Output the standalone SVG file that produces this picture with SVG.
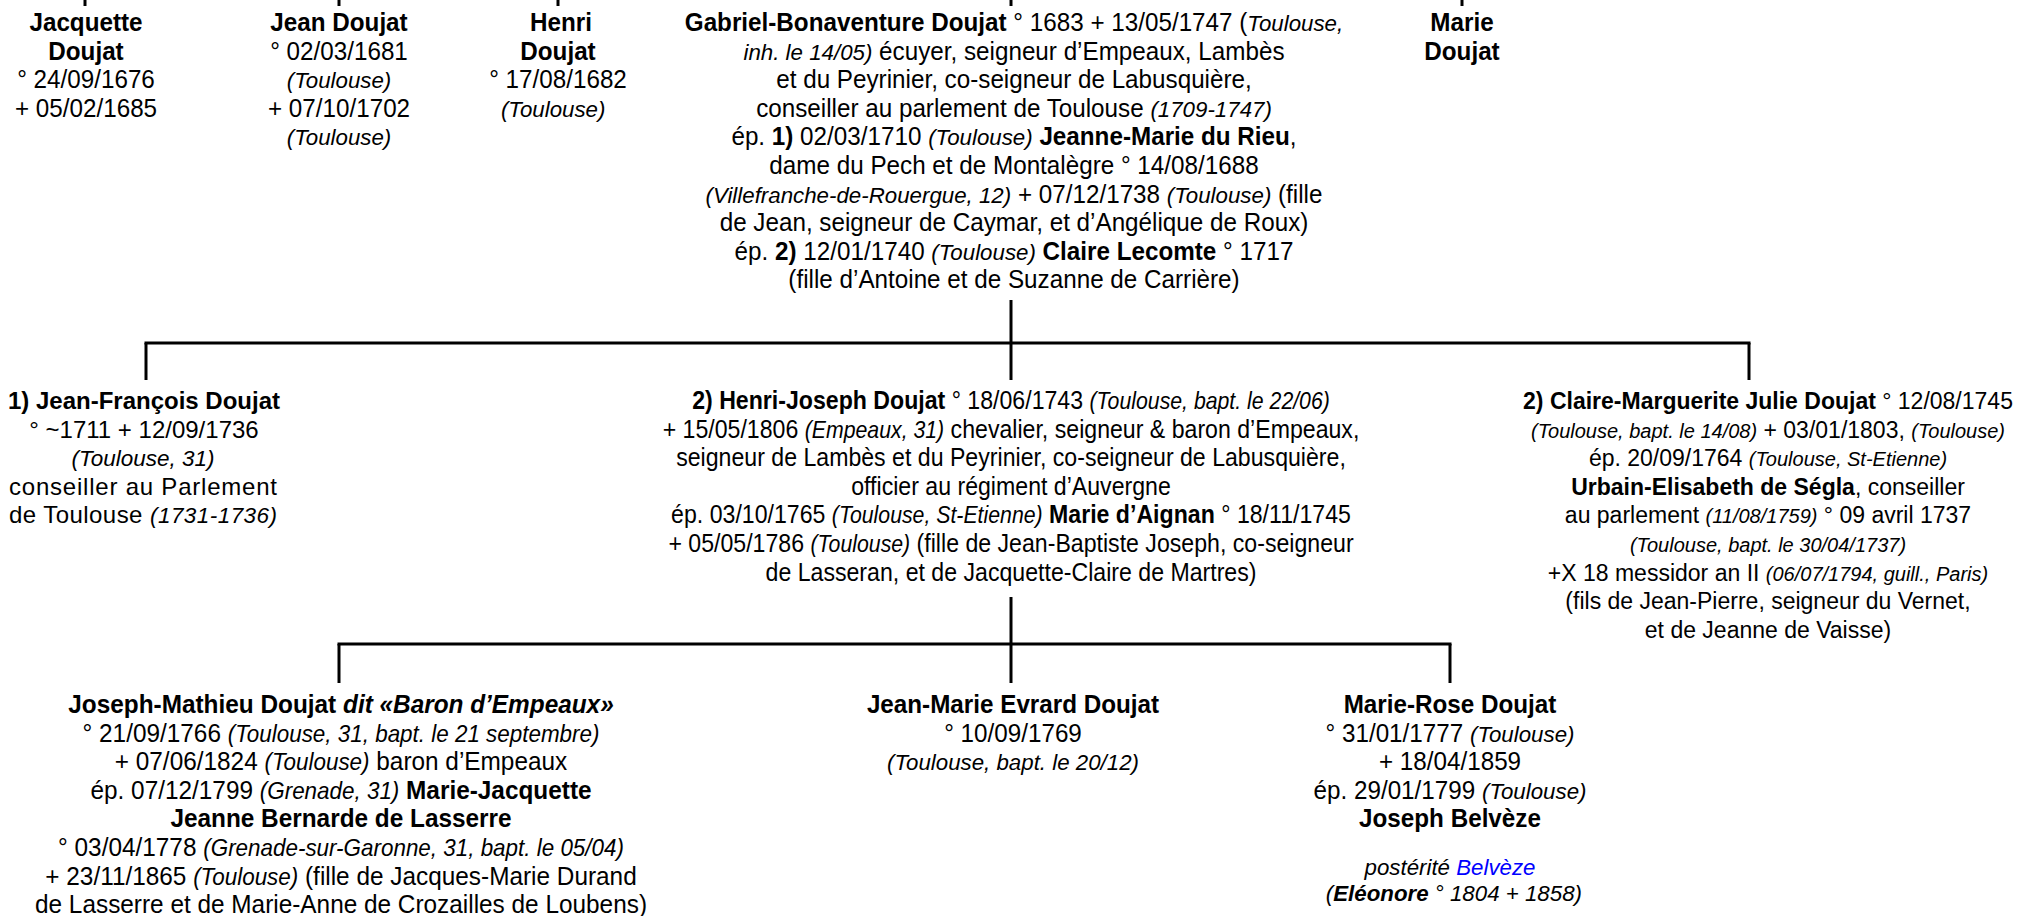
<svg xmlns="http://www.w3.org/2000/svg" width="2019" height="916" viewBox="0 0 2019 916">
<style>
text{font-family:"Liberation Sans",Arial,sans-serif;font-size:25px;fill:#000;text-anchor:middle}
.b{font-weight:bold}
.i{font-style:italic;font-size:23px}
.r text{font-size:23px}
.r .i{font-size:20px}
.jf text{font-size:24px}
.jf .i{font-size:22.5px}
.lnk{fill:#0000FF}
.c line{stroke:#000;stroke-width:3}
</style>
<rect width="2019" height="916" fill="#fff"/>
<g class="c" id="connectors">
<line x1="85" y1="0" x2="85" y2="6"/>
<line x1="339" y1="0" x2="339" y2="6"/>
<line x1="558" y1="0" x2="558" y2="6"/>
<line x1="1011" y1="0" x2="1011" y2="6"/>
<line x1="1462" y1="0" x2="1462" y2="6"/>
<line x1="1011" y1="300" x2="1011" y2="380"/>
<line x1="144.5" y1="343" x2="1750.5" y2="343"/>
<line x1="146" y1="343" x2="146" y2="380"/>
<line x1="1749" y1="343" x2="1749" y2="380"/>
<line x1="1011" y1="597" x2="1011" y2="683"/>
<line x1="337.5" y1="644" x2="1451.5" y2="644"/>
<line x1="339" y1="644" x2="339" y2="683"/>
<line x1="1450" y1="644" x2="1450" y2="683"/>
</g>
<g id="jacquette" transform="translate(86 0) scale(0.97 1)">
<text x="0" y="31" class="b">Jacquette</text>
<text x="0" y="59.6" class="b">Doujat</text>
<text x="0" y="88.2">° 24/09/1676</text>
<text x="0" y="116.8">+ 05/02/1685</text>
</g>
<g id="jean" transform="translate(339 0) scale(0.97 1)">
<text x="0" y="31" class="b">Jean Doujat</text>
<text x="0" y="59.6">° 02/03/1681</text>
<text x="0" y="88.2" class="i">(Toulouse)</text>
<text x="0" y="116.8">+ 07/10/1702</text>
<text x="0" y="145.4" class="i">(Toulouse)</text>
</g>
<g id="henri" transform="translate(558 0) scale(0.97 1)">
<text x="3" y="31" class="b">Henri</text>
<text x="0" y="59.6" class="b">Doujat</text>
<text x="0" y="88.2">° 17/08/1682</text>
<text x="-5" y="116.8" class="i">(Toulouse)</text>
</g>
<g id="gabriel" transform="translate(1014 0) scale(0.97 1)">
<text x="0" y="31"><tspan class="b">Gabriel-Bonaventure Doujat</tspan> ° 1683 + 13/05/1747 (<tspan class="i">Toulouse,</tspan></text>
<text x="0" y="59.6"><tspan class="i">inh. le 14/05)</tspan> écuyer, seigneur d’Empeaux, Lambès</text>
<text x="0" y="88.2">et du Peyrinier, co-seigneur de Labusquière,</text>
<text x="0" y="116.8">conseiller au parlement de Toulouse <tspan class="i">(1709-1747)</tspan></text>
<text x="0" y="145.4">ép. <tspan class="b">1)</tspan> 02/03/1710 <tspan class="i">(Toulouse)</tspan> <tspan class="b">Jeanne-Marie du Rieu</tspan>,</text>
<text x="0" y="174">dame du Pech et de Montalègre ° 14/08/1688</text>
<text x="0" y="202.6"><tspan class="i">(Villefranche-de-Rouergue, 12)</tspan> + 07/12/1738 <tspan class="i">(Toulouse)</tspan> (fille</text>
<text x="0" y="231.2">de Jean, seigneur de Caymar, et d’Angélique de Roux)</text>
<text x="0" y="259.8">ép. <tspan class="b">2)</tspan> 12/01/1740 <tspan class="i">(Toulouse)</tspan> <tspan class="b">Claire Lecomte</tspan> ° 1717</text>
<text x="0" y="288.4">(fille d’Antoine et de Suzanne de Carrière)</text>
</g>
<g id="marie" transform="translate(1462 0) scale(0.97 1)">
<text x="0" y="31" class="b">Marie</text>
<text x="0" y="59.6" class="b">Doujat</text>
</g>
<g id="jean-francois" class="jf">
<text x="144" y="409" class="b">1) Jean-François Doujat</text>
<text x="144" y="437.6">° ~1711 + 12/09/1736</text>
<text x="143" y="466.2" class="i">(Toulouse, 31)</text>
<text x="143" y="494.8" textLength="268" lengthAdjust="spacing">conseiller au Parlement</text>
<text x="143" y="523.4" textLength="268" lengthAdjust="spacing">de Toulouse <tspan class="i">(1731-1736)</tspan></text>
</g>
<g id="henri-joseph" transform="translate(1011 0) scale(0.925 1)">
<text x="0" y="409"><tspan class="b">2) Henri-Joseph Doujat</tspan> ° 18/06/1743 <tspan class="i">(Toulouse,  bapt. le 22/06)</tspan></text>
<text x="0" y="437.6">+ 15/05/1806 <tspan class="i">(Empeaux, 31)</tspan> chevalier, seigneur &amp; baron d’Empeaux,</text>
<text x="0" y="466.2">seigneur de Lambès et du Peyrinier, co-seigneur de Labusquière,</text>
<text x="0" y="494.8">officier au régiment d’Auvergne</text>
<text x="0" y="523.4">ép. 03/10/1765 <tspan class="i">(Toulouse, St-Etienne)</tspan> <tspan class="b">Marie d’Aignan</tspan> ° 18/11/1745</text>
<text x="0" y="552">+ 05/05/1786 <tspan class="i">(Toulouse)</tspan> (fille de Jean-Baptiste Joseph, co-seigneur</text>
<text x="0" y="580.6">de Lasseran, et de Jacquette-Claire de Martres)</text>
</g>
<g id="claire" class="r">
<text x="1768" y="409"><tspan class="b">2) Claire-Marguerite Julie Doujat</tspan> ° 12/08/1745</text>
<text x="1768" y="437.6"><tspan class="i">(Toulouse, bapt. le 14/08)</tspan> + 03/01/1803, <tspan class="i">(Toulouse)</tspan></text>
<text x="1768" y="466.2">ép. 20/09/1764 <tspan class="i">(Toulouse, St-Etienne)</tspan></text>
<text x="1768" y="494.8"><tspan class="b">Urbain-Elisabeth de Ségla</tspan>, conseiller</text>
<text x="1768" y="523.4">au parlement <tspan class="i">(11/08/1759)</tspan> °  09 avril 1737</text>
<text x="1768" y="552" class="i">(Toulouse, bapt. le 30/04/1737)</text>
<text x="1768" y="580.6">+X 18 messidor an II <tspan class="i">(06/07/1794, guill., Paris)</tspan></text>
<text x="1768" y="609.2">(fils de Jean-Pierre, seigneur du Vernet,</text>
<text x="1768" y="637.8">et de Jeanne de Vaisse)</text>
</g>
<g id="joseph-mathieu" transform="translate(341 0) scale(0.975 1)">
<text x="0" y="713"><tspan class="b">Joseph-Mathieu Doujat </tspan><tspan class="b" font-style="italic">dit «Baron d’Empeaux»</tspan></text>
<text x="0" y="741.6">° 21/09/1766 <tspan class="i">(Toulouse, 31, bapt. le 21 septembre)</tspan></text>
<text x="0" y="770.2">+ 07/06/1824 <tspan class="i">(Toulouse)</tspan>  baron d’Empeaux</text>
<text x="0" y="798.8">ép. 07/12/1799 <tspan class="i">(Grenade, 31)</tspan> <tspan class="b">Marie-Jacquette</tspan></text>
<text x="0" y="827.4" class="b">Jeanne Bernarde de Lasserre</text>
<text x="0" y="856">° 03/04/1778 <tspan class="i">(Grenade-sur-Garonne, 31, bapt. le 05/04)</tspan></text>
<text x="0" y="884.6">+ 23/11/1865 <tspan class="i">(Toulouse)</tspan> (fille de Jacques-Marie Durand</text>
<text x="0" y="913.2">de Lasserre et de Marie-Anne de Crozailles de Loubens)</text>
</g>
<g id="jean-marie" transform="translate(1013 0) scale(0.97 1)">
<text x="0" y="713" class="b">Jean-Marie Evrard Doujat</text>
<text x="0" y="741.6">° 10/09/1769</text>
<text x="0" y="770.2" class="i">(Toulouse, bapt. le 20/12)</text>
</g>
<g id="marie-rose" transform="translate(1450 0) scale(0.97 1)">
<text x="0" y="713" class="b">Marie-Rose Doujat</text>
<text x="0" y="741.6">° 31/01/1777 <tspan class="i">(Toulouse)</tspan></text>
<text x="0" y="770.2">+ 18/04/1859</text>
<text x="0" y="798.8">ép. 29/01/1799 <tspan class="i">(Toulouse)</tspan></text>
<text x="0" y="827.4" class="b">Joseph Belvèze</text>
<text x="0" y="875" class="i" font-size="26">postérité <tspan class="lnk">Belvèze</tspan></text>
<text x="4" y="901" class="i" font-size="21">(<tspan class="b">Eléonore</tspan> ° 1804 + 1858)</text>
</g>
</svg>
